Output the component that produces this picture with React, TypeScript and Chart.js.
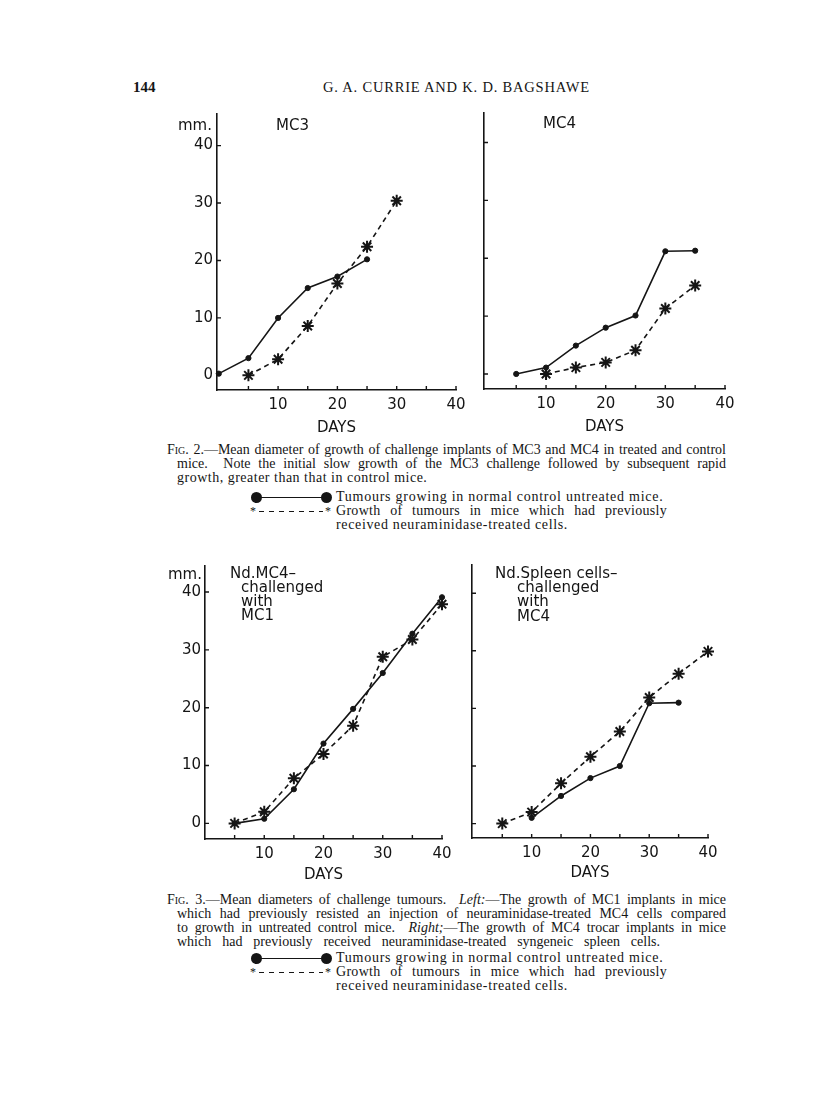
import React, { useEffect, useRef } from "react";
import { Chart, registerables } from "chart.js";

Chart.register(...registerables);

const INK = "#151515";
const SANS = "'DejaVu Sans', sans-serif";
const SERIF = "'Liberation Serif', serif";

// ---- tick values ----
const xTickLabels = [10, 20, 30, 40];
const yTickLabels = [0, 10, 20, 30, 40];
const xMinorTicks = [5, 10, 15, 20, 25, 30, 35, 40];

// ---- Fig. 2 left: MC3 ----
const mc3ControlDays = [0, 5, 10, 15, 20, 25];
const mc3ControlMm = [0.3, 3, 10, 15.2, 17.2, 20.2];
const mc3TreatedDays = [5, 10, 15, 20, 25, 30];
const mc3TreatedMm = [0, 2.8, 8.6, 16, 22.4, 30.4];

// ---- Fig. 2 right: MC4 ----
const mc4ControlDays = [5, 10, 15, 20, 25, 30, 35];
const mc4ControlMm = [0, 1.1, 4.9, 8, 10.1, 21.2, 21.3];
const mc4TreatedDays = [10, 15, 20, 25, 30, 35];
const mc4TreatedMm = [0, 1.1, 2, 4.1, 11.3, 15.3];

// ---- Fig. 3 left: Nd.MC4 challenged with MC1 ----
const mc1ControlDays = [5, 10, 15, 20, 25, 30, 35, 40];
const mc1ControlMm = [0, 0.8, 5.9, 13.8, 19.8, 26, 32.8, 39.1];
const mc1TreatedDays = [5, 10, 15, 20, 25, 30, 35, 40];
const mc1TreatedMm = [0, 2, 7.8, 12, 16.9, 28.8, 31.8, 37.9];

// ---- Fig. 3 right: Nd.Spleen cells challenged with MC4 ----
const spleenControlDays = [10, 15, 20, 25, 30, 35];
const spleenControlMm = [1, 4.8, 7.9, 10, 20.9, 21];
const spleenTreatedDays = [5, 10, 15, 20, 25, 30, 35, 40];
const spleenTreatedMm = [0, 2, 7, 11.6, 16, 21.9, 26, 29.9];

type Series = { days: number[]; mm: number[]; treated: boolean };

const innerTicks = {
  id: "innerTicks",
  afterDraw(chart: any) {
    const { ctx, chartArea, scales } = chart;
    ctx.save();
    ctx.strokeStyle = INK;
    ctx.lineWidth = 1.4;
    ctx.beginPath();
    for (const v of xMinorTicks) {
      const px = scales.x.getPixelForValue(v);
      ctx.moveTo(px, chartArea.bottom);
      ctx.lineTo(px, chartArea.bottom - 4);
    }
    for (const v of yTickLabels) {
      const py = scales.y.getPixelForValue(v);
      ctx.moveTo(chartArea.left, py);
      ctx.lineTo(chartArea.left + 4, py);
    }
    ctx.stroke();
    ctx.restore();
  },
};

type GraphProps = {
  axisX: number;
  axisRight: number;
  axisTop: number;
  axisBottom: number;
  daysY: number;
  xMin: number;
  xMax: number;
  yMin: number;
  yMax: number;
  showY: boolean;
  series: Series[];
};

function Graph(p: GraphProps) {
  const ref = useRef<HTMLCanvasElement>(null);
  const yW = 45;
  const padT = 12;
  const padR = 24;
  const xH = p.daysY - p.axisBottom + 10;
  const left = p.axisX - yW;
  const top = p.axisTop - padT;
  const width = yW + (p.axisRight - p.axisX) + padR;
  const height = padT + (p.axisBottom - p.axisTop) + xH;

  useEffect(() => {
    if (!ref.current) return;
    const chart = new Chart(ref.current, {
      type: "line",
      data: {
        datasets: p.series.map((s) => ({
          data: s.days.map((d, i) => ({ x: d, y: s.mm[i] })),
          borderColor: INK,
          backgroundColor: INK,
          pointBackgroundColor: INK,
          pointBorderColor: INK,
          borderWidth: 1.6,
          borderDash: s.treated ? [5, 4] : [],
          pointStyle: s.treated ? "star" : "circle",
          pointRadius: s.treated ? 6 : 2.6,
          pointBorderWidth: s.treated ? 2 : 1,
          tension: 0,
          clip: false as any,
        })),
      },
      options: {
        animation: false,
        responsive: false,
        events: [],
        layout: { padding: { left: 0, top: padT, right: padR, bottom: 0 } },
        plugins: { legend: { display: false }, tooltip: { enabled: false } },
        scales: {
          x: {
            type: "linear",
            min: p.xMin,
            max: p.xMax,
            afterBuildTicks: (s: any) => {
              s.ticks = xTickLabels.map((v) => ({ value: v }));
            },
            afterFit: (s: any) => {
              s.height = xH;
            },
            grid: { display: false, drawTicks: false },
            border: { display: true, color: INK, width: 1.6 },
            ticks: {
              padding: 6,
              color: INK,
              font: { size: 15, family: SANS },
              maxRotation: 0,
              autoSkip: false,
            },
            title: {
              display: true,
              text: "DAYS",
              color: INK,
              font: { size: 15, family: SANS },
              padding: { top: 0, bottom: 1 },
            },
          },
          y: {
            type: "linear",
            min: p.yMin,
            max: p.yMax,
            afterBuildTicks: (s: any) => {
              s.ticks = yTickLabels.map((v) => ({ value: v }));
            },
            afterFit: (s: any) => {
              s.width = yW;
            },
            grid: { display: false, drawTicks: false },
            border: { display: true, color: INK, width: 1.6 },
            ticks: {
              display: p.showY,
              padding: 4,
              color: INK,
              font: { size: 15, family: SANS },
            },
          },
        },
      },
      plugins: [innerTicks],
    } as any);
    return () => chart.destroy();
  }, []);

  return (
    <canvas
      ref={ref}
      width={width}
      height={height}
      style={{ position: "absolute", left, top, width, height }}
    />
  );
}

function T(props: {
  x: number;
  y: number;
  size?: number;
  family?: string;
  children: React.ReactNode;
  style?: React.CSSProperties;
}) {
  const size = props.size ?? 15;
  return (
    <div
      style={{
        position: "absolute",
        left: props.x,
        top: props.y - size * 0.55,
        fontSize: size,
        lineHeight: `${size}px`,
        fontFamily: props.family ?? SANS,
        color: INK,
        whiteSpace: "nowrap",
        ...props.style,
      }}
    >
      {props.children}
    </div>
  );
}

function JLine(props: { x: number; y: number; w?: number; children: React.ReactNode; spacing?: number }) {
  const size = 14;
  return (
    <div
      style={{
        position: "absolute",
        left: props.x,
        top: props.y - size * 0.52,
        width: props.w,
        fontSize: size,
        lineHeight: `${size}px`,
        fontFamily: SERIF,
        color: INK,
        textAlign: props.w ? "justify" : "left",
        textAlignLast: props.w ? "justify" : "left",
        whiteSpace: props.w ? "normal" : "nowrap",
        letterSpacing: props.spacing ?? 0,
      }}
    >
      {props.children}
    </div>
  );
}

const dashPattern = `repeating-linear-gradient(to right, ${INK} 0px, ${INK} 5px, transparent 5px, transparent 10px)`;

function Legend(props: { y: number }) {
  const y = props.y;
  return (
    <>
      <div style={{ position: "absolute", left: 251, top: y - 5.5, width: 11, height: 11, borderRadius: "50%", background: INK }} />
      <div style={{ position: "absolute", left: 260, top: y - 0.5, width: 62, height: 1, background: INK }} />
      <div style={{ position: "absolute", left: 321, top: y - 5.5, width: 11, height: 11, borderRadius: "50%", background: INK }} />
      <JLine x={336} y={y} spacing={0.75}>Tumours growing in normal control untreated mice.</JLine>
      <div style={{ position: "absolute", left: 250, top: y + 8, fontFamily: SERIF, fontSize: 12, lineHeight: "12px", color: INK }}>*</div>
      <div style={{ position: "absolute", left: 259, top: y + 14, width: 64, height: 1, background: dashPattern }} />
      <div style={{ position: "absolute", left: 325, top: y + 8, fontFamily: SERIF, fontSize: 12, lineHeight: "12px", color: INK }}>*</div>
      <JLine x={336} y={y + 14} w={331} spacing={0.3}>Growth of tumours in mice which had previously</JLine>
      <JLine x={336} y={y + 28} spacing={0.65}>received neuraminidase-treated cells.</JLine>
    </>
  );
}

export default function App() {
  return (
    <div
      style={{
        position: "absolute",
        left: 0,
        top: 0,
        width: 816,
        height: 1117,
        background: "#fff",
        overflow: "hidden",
      }}
    >
      {/* running head */}
      <T x={133} y={88} size={15} family={SERIF} style={{ fontWeight: 700 }}>144</T>
      <T x={323} y={88} size={14.5} family={SERIF} style={{ letterSpacing: 0.8 }}>
        G. A. CURRIE AND K. D. BAGSHAWE
      </T>

      {/* Fig. 2 */}
      <Graph
        axisX={217}
        axisRight={456}
        axisTop={113}
        axisBottom={390}
        daysY={428}
        xMin={-0.3}
        xMax={40}
        yMin={-2.55}
        yMax={45.5}
        showY={true}
        series={[
          { days: mc3ControlDays, mm: mc3ControlMm, treated: false },
          { days: mc3TreatedDays, mm: mc3TreatedMm, treated: true },
        ]}
      />
      <Graph
        axisX={484}
        axisRight={725}
        axisTop={113}
        axisBottom={389}
        daysY={427}
        xMin={-0.4}
        xMax={40}
        yMin={-2.6}
        yMax={45.1}
        showY={false}
        series={[
          { days: mc4ControlDays, mm: mc4ControlMm, treated: false },
          { days: mc4TreatedDays, mm: mc4TreatedMm, treated: true },
        ]}
      />
      <T x={178} y={126}>mm.</T>
      <T x={276} y={126}>MC3</T>
      <T x={543} y={124}>MC4</T>

      <JLine x={167} y={450} w={559}>
        <span style={{ fontVariant: "small-caps" }}>Fig.</span> 2.—Mean diameter of growth of challenge implants of MC3 and MC4 in treated and control
      </JLine>
      <JLine x={177} y={464} w={549}>
        mice.&nbsp; Note the initial slow growth of the MC3 challenge followed by subsequent rapid
      </JLine>
      <JLine x={177} y={478} spacing={0.5}>growth, greater than that in control mice.</JLine>
      <Legend y={497} />

      {/* Fig. 3 */}
      <Graph
        axisX={205}
        axisRight={442}
        axisTop={565}
        axisBottom={839}
        daysY={875}
        xMin={0}
        xMax={40}
        yMin={-2.7}
        yMax={44.5}
        showY={true}
        series={[
          { days: mc1ControlDays, mm: mc1ControlMm, treated: false },
          { days: mc1TreatedDays, mm: mc1TreatedMm, treated: true },
        ]}
      />
      <Graph
        axisX={472}
        axisRight={708}
        axisTop={565}
        axisBottom={838}
        daysY={873}
        xMin={-0.15}
        xMax={40}
        yMin={-2.5}
        yMax={44.9}
        showY={false}
        series={[
          { days: spleenControlDays, mm: spleenControlMm, treated: false },
          { days: spleenTreatedDays, mm: spleenTreatedMm, treated: true },
        ]}
      />
      <T x={168} y={575}>mm.</T>
      <T x={230} y={574}>Nd.MC4–</T>
      <T x={241} y={588}>challenged</T>
      <T x={241} y={602}>with</T>
      <T x={241} y={616}>MC1</T>
      <T x={495} y={574}>Nd.Spleen cells–</T>
      <T x={517} y={588}>challenged</T>
      <T x={517} y={602}>with</T>
      <T x={517} y={617}>MC4</T>

      <JLine x={167} y={900} w={559}>
        <span style={{ fontVariant: "small-caps" }}>Fig.</span> 3.—Mean diameters of challenge tumours.&nbsp; <i>Left:</i>—The growth of MC1 implants in mice
      </JLine>
      <JLine x={177} y={914} w={549}>
        which had previously resisted an injection of neuraminidase-treated MC4 cells compared
      </JLine>
      <JLine x={177} y={928} w={549}>
        to growth in untreated control mice.&nbsp; <i>Right;</i>—The growth of MC4 trocar implants in mice
      </JLine>
      <JLine x={177} y={942} w={483}>
        which had previously received neuraminidase-treated syngeneic spleen cells.
      </JLine>
      <Legend y={958} />
    </div>
  );
}
